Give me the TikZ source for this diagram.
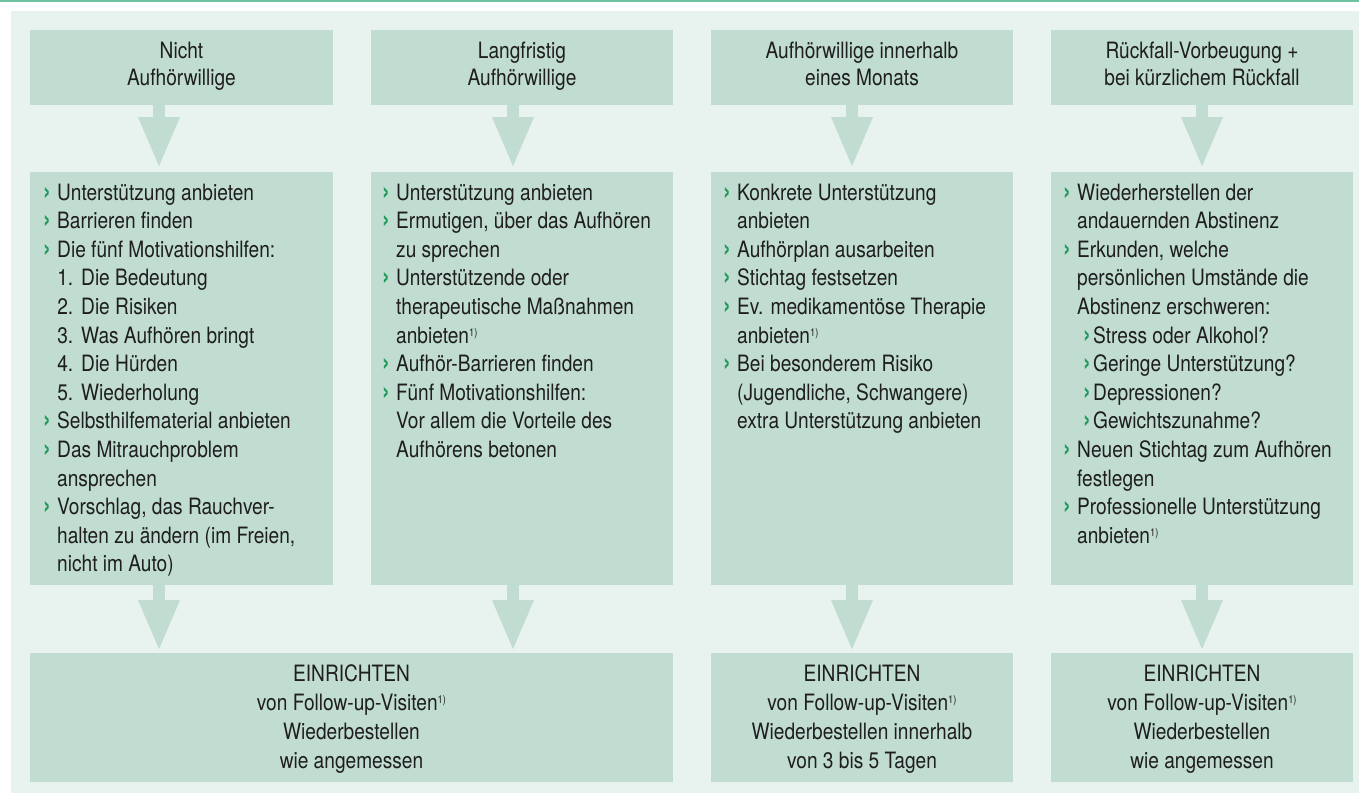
\documentclass[tikz,border=0pt]{standalone}
\usepackage{fontspec}
\setmainfont{TeX Gyre Heros}[FakeStretch=0.85]
\usetikzlibrary{arrows.meta}
\definecolor{panel}{HTML}{E8F2EE}
\definecolor{boxc}{HTML}{C1DCD0}
\definecolor{topline}{HTML}{6EC3A3}
\definecolor{bulg}{HTML}{1E9A5A}
\definecolor{txt}{HTML}{1E1E1E}
\newcommand\myblt{\makebox[14pt][l]{\textcolor{bulg}{\fontsize{27}{27}\selectfont\bfseries ›}}}
\newcommand\mycind{\hspace*{14pt}}
\newcommand\myfnote{\raisebox{7pt}{\fontsize{11}{11}\selectfont 1)}}
\newcommand\mynumi[1]{\hspace*{20pt}\makebox[10pt][r]{#1.}\hspace*{8pt}}
\newcommand\mysubblt{\hspace*{20pt}\makebox[10pt][l]{\textcolor{bulg}{\fontsize{27}{27}\selectfont\bfseries ›}}}
\tikzset{
  boxs/.style={fill=boxc, draw=none, inner sep=0pt, outer sep=0pt, anchor=north west},
  txtn/.style={inner sep=0pt, anchor=base west, text=txt, font=\fontsize{22.5}{28.6}\selectfont},
  ctxt/.style={inner sep=0pt, anchor=base, text=txt, font=\fontsize{22.5}{28.6}\selectfont},
  arr/.style={draw=boxc, line width=12pt, -{Triangle[width=38pt,length=51pt]}},
}
\begin{document}
\begin{tikzpicture}[x=1pt,y=-1pt]
\useasboundingbox (0,0) rectangle (1359,793);
\fill[panel] (11,11) rectangle (1359,793);
\fill[topline] (0,0) rectangle (1359,2.2);

% header boxes
\node[boxs, minimum width=303pt, minimum height=75pt] (h1) at (30,30) {};
\node[boxs, minimum width=302pt, minimum height=75pt] (h2) at (371,30) {};
\node[boxs, minimum width=302pt, minimum height=75pt] (h3) at (711,30) {};
\node[boxs, minimum width=302pt, minimum height=75pt] (h4) at (1051,30) {};
% middle boxes
\node[boxs, minimum width=303pt, minimum height=413pt] (m1) at (30,172) {};
\node[boxs, minimum width=302pt, minimum height=413pt] (m2) at (371,172) {};
\node[boxs, minimum width=302pt, minimum height=413pt] (m3) at (711,172) {};
\node[boxs, minimum width=302pt, minimum height=413pt] (m4) at (1051,172) {};
% bottom boxes
\node[boxs, minimum width=643pt, minimum height=129pt] (bA) at (30,653) {};
\node[boxs, minimum width=302pt, minimum height=129pt] (bB) at (711,653) {};
\node[boxs, minimum width=302pt, minimum height=129pt] (bC) at (1051,653) {};

% arrows top
\draw[arr, shorten >=4pt] ([xshift=-22.5pt]h1.south) -- ([xshift=-22.5pt]m1.north);
\draw[arr, shorten >=4pt] ([xshift=-9pt]h2.south) -- ([xshift=-9pt]m2.north);
\draw[arr, shorten >=4pt] ([xshift=-10pt]h3.south) -- ([xshift=-10pt]m3.north);
\draw[arr, shorten >=4pt] (h4.south) -- (m4.north);
% arrows bottom
\coordinate (d1) at ([xshift=-22.5pt]m1.south);
\coordinate (d2) at ([xshift=-9pt]m2.south);
\coordinate (d3) at ([xshift=-10pt]m3.south);
\coordinate (d4) at (m4.south);
\draw[arr, shorten >=2pt] (d1) -- (d1 |- bA.north);
\draw[arr, shorten >=2pt] (d2) -- (d2 |- bA.north);
\draw[arr, shorten >=2pt] (d3) -- (d3 |- bB.north);
\draw[arr, shorten >=2pt] (d4) -- (d4 |- bC.north);

% header texts
\node[ctxt] (h1t) at (h1.center |- 0,58) {\parbox[t]{300pt}{\centering\fontsize{22.5}{27}\selectfont Nicht\\Aufhörwillige}};
\node[ctxt] (h2t) at (h2.center |- 0,58) {\parbox[t]{300pt}{\centering\fontsize{22.5}{27}\selectfont Langfristig\\Aufhörwillige}};
\node[ctxt] (h3t) at (h3.center |- 0,58) {\parbox[t]{300pt}{\centering\fontsize{22.5}{27}\selectfont Aufhörwillige innerhalb\\eines Monats}};
\node[ctxt] (h4t) at (h4.center |- 0,58) {\parbox[t]{300pt}{\centering\fontsize{22.5}{27}\selectfont Rückfall-Vorbeugung +\\bei kürzlichem Rückfall}};

% middle texts
\node[txtn] (m1t) at (43,200) {\parbox[t]{288pt}{\raggedright
\myblt Unterstützung anbieten\\
\myblt Barrieren finden\\
\myblt Die fünf Motivationshilfen:\\
\mynumi{1}Die Bedeutung\\
\mynumi{2}Die Risiken\\
\mynumi{3}Was Aufhören bringt\\
\mynumi{4}Die Hürden\\
\mynumi{5}Wiederholung\\
\myblt Selbsthilfematerial anbieten\\
\myblt Das Mitrauchproblem\\
\mycind ansprechen\\
\myblt Vorschlag, das Rauchver-\\
\mycind halten zu ändern (im Freien,\\
\mycind nicht im Auto)}};

\node[txtn] (m2t) at (382,200) {\parbox[t]{288pt}{\raggedright
\myblt Unterstützung anbieten\\
\myblt Ermutigen, über das Aufhören\\
\mycind zu sprechen\\
\myblt Unterstützende oder\\
\mycind therapeutische Maßnahmen\\
\mycind anbieten\myfnote\\
\myblt Aufhör-Barrieren finden\\
\myblt Fünf Motivationshilfen:\\
\mycind Vor allem die Vorteile des\\
\mycind Aufhörens betonen}};

\node[txtn] (m3t) at (723,200) {\parbox[t]{288pt}{\raggedright
\myblt Konkrete Unterstützung\\
\mycind anbieten\\
\myblt Aufhörplan ausarbeiten\\
\myblt Stichtag festsetzen\\
\myblt Ev. medikamentöse Therapie\\
\mycind anbieten\myfnote\\
\myblt Bei besonderem Risiko\\
\mycind (Jugendliche, Schwangere)\\
\mycind extra Unterstützung anbieten}};

\node[txtn] (m4t) at (1063,200) {\parbox[t]{288pt}{\raggedright
\myblt Wiederherstellen der\\
\mycind andauernden Abstinenz\\
\myblt Erkunden, welche\\
\mycind persönlichen Umstände die\\
\mycind Abstinenz erschweren:\\
\mysubblt Stress oder Alkohol?\\
\mysubblt Geringe Unterstützung?\\
\mysubblt Depressionen?\\
\mysubblt Gewichtszunahme?\\
\myblt Neuen Stichtag zum Aufhören\\
\mycind festlegen\\
\myblt Professionelle Unterstützung\\
\mycind anbieten\myfnote}};

% bottom texts
\node[ctxt] (bAt) at (bA.center |- 0,681) {\parbox[t]{600pt}{\centering\fontsize{22.5}{29}\selectfont EINRICHTEN\\von Follow-up-Visiten\myfnote\\Wiederbestellen\\wie angemessen}};
\node[ctxt] (bBt) at (bB.center |- 0,681) {\parbox[t]{300pt}{\centering\fontsize{22.5}{29}\selectfont EINRICHTEN\\von Follow-up-Visiten\myfnote\\Wiederbestellen innerhalb\\von 3 bis 5 Tagen}};
\node[ctxt] (bCt) at (bC.center |- 0,681) {\parbox[t]{300pt}{\centering\fontsize{22.5}{29}\selectfont EINRICHTEN\\von Follow-up-Visiten\myfnote\\Wiederbestellen\\wie angemessen}};
\end{tikzpicture}
\end{document}
